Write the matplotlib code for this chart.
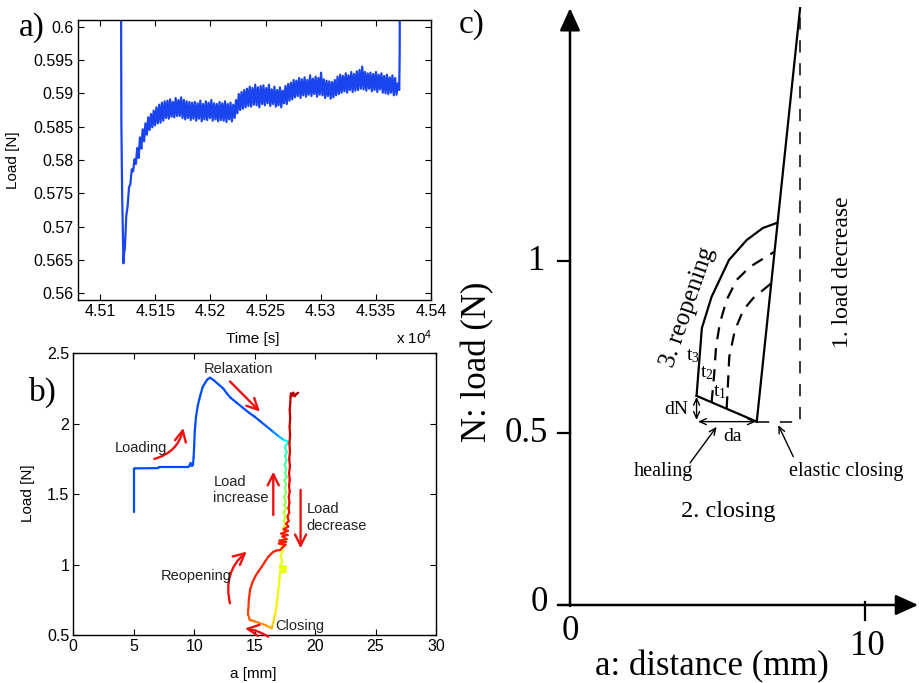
import numpy as np
import matplotlib
matplotlib.use('Agg')
import matplotlib.pyplot as plt
from matplotlib.collections import LineCollection

plt.rcParams['font.family'] = ['Liberation Sans', 'DejaVu Sans']
plt.rcParams['mathtext.default'] = 'regular'

W, H = 920, 683
SERIF = ['Liberation Serif', 'DejaVu Serif']

# ---------------- panel a data ----------------
a_head_t = [4.51190, 4.51191, 4.51193, 4.51200, 4.51207, 4.51212, 4.51218]
a_head_load = [0.625, 0.600, 0.586, 0.575, 0.5685, 0.5645, 0.5660]
a_body_t0, a_body_t1 = 4.51225, 4.53700
a_body_load = [
    0.5668, 0.5716, 0.5731, 0.5759, 0.5764, 0.5786, 0.5783, 0.5801, 0.5794, 0.5818,
    0.5803, 0.5834, 0.5817, 0.5846, 0.5828, 0.5855, 0.5838, 0.5864, 0.5845, 0.5869,
    0.5849, 0.5874, 0.5852, 0.5879, 0.5855, 0.5883, 0.5856, 0.5886, 0.5859, 0.5888,
    0.5863, 0.5889, 0.5862, 0.5891, 0.5865, 0.5887, 0.5864, 0.5893, 0.5866, 0.5890,
    0.5866, 0.5894, 0.5863, 0.5890, 0.5861, 0.5888, 0.5863, 0.5887, 0.5860, 0.5886,
    0.5862, 0.5887, 0.5859, 0.5885, 0.5862, 0.5889, 0.5858, 0.5884, 0.5861, 0.5888,
    0.5860, 0.5886, 0.5863, 0.5890, 0.5859, 0.5885, 0.5861, 0.5884, 0.5858, 0.5887,
    0.5860, 0.5885, 0.5859, 0.5888, 0.5857, 0.5884, 0.5861, 0.5886, 0.5858, 0.5883,
    0.5863, 0.5890, 0.5870, 0.5899, 0.5875, 0.5902, 0.5877, 0.5905, 0.5879, 0.5907,
    0.5881, 0.5910, 0.5880, 0.5908, 0.5883, 0.5913, 0.5882, 0.5909, 0.5879, 0.5911,
    0.5884, 0.5912, 0.5882, 0.5908, 0.5885, 0.5913, 0.5881, 0.5906, 0.5884, 0.5910,
    0.5880, 0.5905, 0.5882, 0.5909, 0.5879, 0.5904, 0.5885, 0.5911, 0.5884, 0.5914,
    0.5889, 0.5916, 0.5891, 0.5920, 0.5894, 0.5919, 0.5896, 0.5923, 0.5893, 0.5921,
    0.5897, 0.5924, 0.5895, 0.5920, 0.5898, 0.5927, 0.5896, 0.5922, 0.5899, 0.5925,
    0.5895, 0.5923, 0.5898, 0.5931, 0.5897, 0.5921, 0.5893, 0.5919, 0.5896, 0.5918,
    0.5892, 0.5917, 0.5894, 0.5920, 0.5897, 0.5925, 0.5899, 0.5928, 0.5901, 0.5926,
    0.5903, 0.5930, 0.5901, 0.5927, 0.5905, 0.5932, 0.5902, 0.5929, 0.5904, 0.5933,
    0.5905, 0.5935, 0.5907, 0.5940, 0.5906, 0.5932, 0.5904, 0.5930, 0.5907, 0.5931,
    0.5903, 0.5929, 0.5905, 0.5932, 0.5902, 0.5928, 0.5906, 0.5930, 0.5901, 0.5926,
    0.5900, 0.5928, 0.5899, 0.5924, 0.5901, 0.5927, 0.5897, 0.5923, 0.5898, 0.5915,
]
a_tail_t = [4.53712, 4.53716, 4.53721]
a_tail_load = [0.5905, 0.596, 0.625]
a_xticks = [4.51, 4.515, 4.52, 4.525, 4.53, 4.535, 4.54]
a_xticklabels = ['4.51', '4.515', '4.52', '4.525', '4.53', '4.535', '4.54']
a_yticks = [0.56, 0.565, 0.57, 0.575, 0.58, 0.585, 0.59, 0.595, 0.60]
a_yticklabels = ['0.56', '0.565', '0.57', '0.575', '0.58', '0.585', '0.59', '0.595', '0.6']

# ---------------- panel b data ----------------
b_x = [5.0, 5.0, 5.1, 7.0, 7.1, 9.5, 9.6, 9.7, 9.8, 9.9, 9.95, 10.0, 10.05, 10.15, 10.3, 10.5,
       10.7, 10.9, 11.1, 11.3, 11.6, 12.0, 12.4, 12.7, 13.0, 13.5, 14.0, 14.5, 15.0, 15.5, 16.0,
       16.5, 17.0, 17.4, 17.8,
       17.62, 17.50, 17.66, 17.52, 17.64, 17.48, 17.62, 17.52, 17.66, 17.46, 17.60, 17.50, 17.62,
       17.44, 17.58, 17.46, 17.60, 17.40, 17.54, 17.42, 17.56, 17.38, 17.50, 17.34, 17.44, 17.35,
       17.20, 17.30, 17.15, 17.28, 17.10, 17.60, 17.10, 17.60, 17.12, 17.55, 17.10, 17.05, 17.02,
       16.95, 16.92, 16.85, 16.80, 16.72, 16.62, 16.55, 16.45, 16.40,
       15.9, 15.4, 14.9, 14.6, 14.48,
       14.48, 14.52, 14.62, 14.80, 15.03, 15.3, 15.58, 15.85, 16.13, 16.35, 16.54, 16.8, 17.1, 17.37,
       17.55, 17.0, 17.6, 17.05, 17.65, 17.3, 17.72, 17.2, 17.75, 17.4, 17.78, 17.6, 17.82, 17.72,
       17.86, 17.80, 17.88, 17.82, 17.90, 17.84, 17.90, 17.85, 17.92, 17.86, 17.92, 17.88, 17.93,
       17.89, 17.94, 17.90, 17.95, 17.97, 18.0, 18.1, 18.2, 18.3, 18.45, 18.6]
b_load = [1.37, 1.68, 1.683, 1.685, 1.692, 1.692, 1.70, 1.72, 1.70, 1.71, 1.76, 1.85, 1.95, 2.05,
          2.13, 2.20, 2.26, 2.29, 2.315, 2.327, 2.31, 2.28, 2.25, 2.215, 2.185, 2.15, 2.115, 2.08,
          2.05, 2.015, 1.98, 1.945, 1.91, 1.885, 1.872,
          1.85, 1.83, 1.80, 1.77, 1.74, 1.71, 1.68, 1.65, 1.62, 1.60, 1.57, 1.54, 1.51, 1.48, 1.45,
          1.42, 1.40, 1.37, 1.34, 1.31, 1.29, 1.26, 1.24, 1.21, 1.19, 1.17, 1.14, 1.10, 1.06, 1.02,
          0.99, 0.985, 0.975, 0.965, 0.955, 0.95, 0.94, 0.90, 0.86, 0.82, 0.78, 0.74, 0.70, 0.66,
          0.62, 0.59, 0.56, 0.548,
          0.57, 0.585, 0.60, 0.606, 0.64,
          0.68, 0.75, 0.82, 0.87, 0.913, 0.95, 0.984, 1.02, 1.055, 1.075, 1.09, 1.10, 1.103, 1.127,
          1.14, 1.15, 1.16, 1.17, 1.18, 1.20, 1.21, 1.22, 1.24, 1.25, 1.27, 1.29, 1.31, 1.34, 1.37,
          1.40, 1.44, 1.48, 1.52, 1.56, 1.60, 1.65, 1.70, 1.75, 1.80, 1.86, 1.92, 1.98, 2.04, 2.10,
          2.15, 2.19, 2.215, 2.20, 2.22, 2.195, 2.21, 2.22]
# time-phase (colour) of each recorded point, 0..1 on the jet scale
b_phase = [0.20] * 30 + [0.21, 0.24, 0.29, 0.34, 0.38] + \
          [0.40, 0.41, 0.42, 0.43, 0.44, 0.45, 0.46, 0.47, 0.48, 0.49, 0.50, 0.51, 0.52, 0.53,
           0.54, 0.55, 0.56, 0.57, 0.58, 0.59, 0.60, 0.61, 0.62, 0.62, 0.63, 0.63, 0.63, 0.63,
           0.63, 0.63, 0.63, 0.63, 0.63, 0.63, 0.63, 0.63, 0.63, 0.64, 0.64, 0.64, 0.65, 0.65,
           0.66, 0.66, 0.67, 0.68, 0.70, 0.72] + \
          [0.74, 0.76, 0.78, 0.80, 0.82] + \
          [0.84, 0.86, 0.87, 0.87, 0.87, 0.87, 0.87, 0.87, 0.87, 0.87, 0.87, 0.87, 0.87, 0.88] + \
          [0.88, 0.88, 0.88, 0.88, 0.88, 0.88, 0.88, 0.88, 0.88, 0.88, 0.89, 0.89, 0.89, 0.89,
           0.89, 0.90, 0.90, 0.90, 0.90, 0.91, 0.91, 0.91, 0.92, 0.92, 0.92, 0.93, 0.93, 0.93,
           0.94, 0.94, 0.94, 0.95, 0.95, 0.95, 0.95, 0.95, 0.95, 0.95]
b_xticks = [0, 5, 10, 15, 20, 25, 30]
b_yticks = [0.5, 1.0, 1.5, 2.0, 2.5]
b_yticklabels = ['0.5', '1', '1.5', '2', '2.5']

# ---------------- panel c data (schematic) ----------------
c_steep_x = [6.33, 7.80]
c_steep_y = [0.533, 1.735]
c_reopen_x = [4.29, 4.47, 4.80, 5.39, 5.99, 6.54, 7.02]
c_reopen_y = [0.608, 0.805, 0.896, 1.003, 1.061, 1.096, 1.111]
c_close_x = [4.29, 6.33]
c_close_y = [0.608, 0.533]
c_elastic_x = [6.33, 7.80, 7.80]
c_elastic_y = [0.533, 0.533, 1.735]
c_t2_x = [4.80, 4.89, 4.95, 5.08, 5.31, 5.65, 6.10, 6.93]
c_t2_y = [0.589, 0.673, 0.751, 0.819, 0.887, 0.945, 0.983, 1.027]
c_t1_x = [5.31, 5.35, 5.40, 5.59, 5.88, 6.21, 6.82]
c_t1_y = [0.571, 0.635, 0.722, 0.799, 0.858, 0.892, 0.935]
c_yticks = [0.5, 1.0]
c_yticklabels = ['0.5', '1']


def fx(px):
    return px / W


def fy(py):
    return 1 - py / H


fig = plt.figure(figsize=(9.2, 6.83), dpi=100)

# ================= panel a =================
axa = fig.add_axes([fx(78), fy(300), fx(431) - fx(78), fy(20) - fy(300)])
a_t = list(a_head_t) + list(np.linspace(a_body_t0, a_body_t1, len(a_body_load))) + list(a_tail_t)
a_l = list(a_head_load) + a_body_load + list(a_tail_load)
axa.plot(a_t, a_l, color='#1a44ee', lw=1.6)
axa.set_xlim(4.5080, 4.5400)
axa.set_ylim(0.5590, 0.6010)
axa.set_xticks(a_xticks)
axa.set_xticklabels(a_xticklabels)
axa.set_yticks(a_yticks)
axa.set_yticklabels(a_yticklabels)
axa.tick_params(direction='in', top=True, right=True, length=4, width=0.8,
                labelsize=11.5, pad=3)
axa.set_ylabel('Load [N]', fontsize=11)
axa.yaxis.set_label_coords(-0.164, 0.5)
axa.set_xlabel('Time [s]', fontsize=11)
axa.xaxis.set_label_coords(0.496, -0.115)
for s in axa.spines.values():
    s.set_linewidth(1.0)
fig.text(fx(396), fy(338), 'x 10$^{4}$', fontsize=11, ha='left', va='center')

# ================= panel b =================
axb = fig.add_axes([fx(73.3), fy(635), fx(436) - fx(73.3), fy(353.3) - fy(635)])
pts = np.column_stack([b_x, b_load])
segs = np.stack([pts[:-1], pts[1:]], axis=1)
ph = np.array(b_phase)
segc = plt.get_cmap('jet')((ph[:-1] + ph[1:]) / 2)
lc = LineCollection(segs, colors=segc, linewidths=1.6, capstyle='round', joinstyle='round')
axb.add_collection(lc)
axb.set_xlim(0, 30)
axb.set_ylim(0.5, 2.5)
axb.set_xticks(b_xticks)
axb.set_yticks(b_yticks)
axb.set_yticklabels(b_yticklabels)
axb.tick_params(direction='in', top=True, right=True, length=4, width=0.8,
                labelsize=11.5, pad=3)
axb.set_ylabel('Load [N]', fontsize=11)
axb.yaxis.set_label_coords(-0.106, 0.504)
axb.set_xlabel('a [mm]', fontsize=11)
axb.xaxis.set_label_coords(0.495, -0.112)
for s in axb.spines.values():
    s.set_linewidth(1.0)

ak = dict(arrowstyle='->,head_length=0.5,head_width=0.25', color='#ee1111', lw=1.7,
          mutation_scale=16, shrinkA=0, shrinkB=0)
axb.annotate('', xy=(9.1, 1.97), xytext=(6.7, 1.75),
             arrowprops=dict(**ak, connectionstyle='arc3,rad=0.3'))
axb.annotate('', xy=(15.44, 2.086), xytext=(12.96, 2.30), arrowprops=dict(**ak))
axb.annotate('', xy=(16.54, 1.66), xytext=(16.54, 1.352), arrowprops=dict(**ak))
axb.annotate('', xy=(18.8, 1.116), xytext=(18.8, 1.53), arrowprops=dict(**ak))
axb.annotate('', xy=(14.34, 1.092), xytext=(12.96, 0.725),
             arrowprops=dict(**ak, connectionstyle='arc3,rad=-0.3'))
axb.annotate('', xy=(14.2, 0.547), xytext=(16.13, 0.488), annotation_clip=False,
             arrowprops=dict(**ak, connectionstyle='arc3,rad=0.1'))

bt = dict(fontsize=10.5, color='#222222')
axb.text(13.7, 2.386, 'Relaxation', ha='center', va='center', **bt)
axb.text(5.57, 1.83, 'Loading', ha='center', va='center', **bt)
axb.text(11.58, 1.53, 'Load\nincrease', ha='left', va='center', linespacing=1.2, **bt)
axb.text(19.3, 1.334, 'Load\ndecrease', ha='left', va='center', linespacing=1.2, **bt)
axb.text(10.2, 0.918, 'Reopening', ha='center', va='center', **bt)
axb.text(16.68, 0.563, 'Closing', ha='left', va='center', **bt)

# ================= panel c =================
axc = fig.add_axes([fx(540), 0, fx(920) - fx(540), 1])
axc.set_xlim((540 - 570) / 29.5, (920 - 570) / 29.5)
axc.set_ylim((605 - 683) / 344, 605 / 344)
axc.axis('off')

axk = dict(arrowstyle='-|>,head_length=0.55,head_width=0.25', color='black', lw=1.8,
           mutation_scale=25, shrinkA=0, shrinkB=0)
axc.annotate('', xy=(0, 1.735), xytext=(0, -0.003), arrowprops=axk)
axc.annotate('', xy=(11.8, 0), xytext=(-0.41, 0), arrowprops=axk)
for yt in c_yticks:
    axc.plot([-0.41, 0], [yt, yt], color='black', lw=1.6)
axc.plot([10, 10], [0.0087, -0.044], color='black', lw=1.6)

tf = dict(family=SERIF, fontsize=25)
axc.text(-0.85, 1.0, c_yticklabels[1], ha='right', va='center', **tf)
axc.text(-0.75, 0.5, c_yticklabels[0], ha='right', va='center', **tf)
axc.text(-0.75, 0.006, '0', ha='right', va='center', **tf)
axc.text(0.0, -0.078, '0', ha='center', va='center', **tf)
axc.text(10.07, -0.122, '10', ha='center', va='center', **tf)
axc.text(4.81, -0.18, 'a: distance (mm)', ha='center', va='center', **tf)
fig.text(fx(478), fy(362), 'N: load (N)', rotation=90, ha='center', va='center', **tf)

axc.plot(c_steep_x, c_steep_y, color='black', lw=1.6)
axc.plot(c_reopen_x, c_reopen_y, color='black', lw=1.6)
axc.plot(c_close_x, c_close_y, color='black', lw=1.6)
axc.plot(c_elastic_x, c_elastic_y, color='black', lw=1.1, linestyle=(0, (8, 7)))
axc.plot(c_t2_x, c_t2_y, color='black', lw=1.6, linestyle=(0, (5.5, 4)))
axc.plot(c_t1_x, c_t1_y, color='black', lw=1.6, linestyle=(0, (5.5, 4)))

sk = dict(arrowstyle='<->,head_length=0.4,head_width=0.18', color='black', lw=1.0,
          mutation_scale=12, shrinkA=0, shrinkB=0)
axc.annotate('', xy=(4.29, 0.538), xytext=(4.29, 0.605), arrowprops=sk)
axc.annotate('', xy=(6.30, 0.533), xytext=(4.34, 0.533), arrowprops=sk)
pk = dict(arrowstyle='->,head_length=0.4,head_width=0.18', color='black', lw=1.0,
          mutation_scale=12, shrinkA=0, shrinkB=0)
axc.annotate('', xy=(4.97, 0.518), xytext=(4.07, 0.413), arrowprops=pk)
axc.annotate('', xy=(7.06, 0.523), xytext=(7.57, 0.431), arrowprops=pk)

sf = dict(family=SERIF)
axc.text(3.61, 0.567, 'dN', ha='center', va='center', fontsize=14, **sf)
axc.text(5.51, 0.491, 'da', ha='center', va='center', fontsize=14, **sf)
axc.text(3.15, 0.388, 'healing', ha='center', va='center', fontsize=14.5, **sf)
axc.text(9.36, 0.388, 'elastic closing', ha='center', va='center', fontsize=14.5, **sf)
axc.text(5.37, 0.271, '2. closing', ha='center', va='center', fontsize=17.5, **sf)
axc.text(4.01, 0.867, '3. reopening', ha='center', va='center', rotation=71,
         rotation_mode='anchor', fontsize=18, **sf)
axc.text(9.25, 0.968, '1. load decrease', ha='center', va='center', rotation=90,
         fontsize=17, **sf)
axc.text(4.18, 0.724, r'$\mathregular{t_3}$', ha='center', va='center', fontsize=14, **sf)
axc.text(4.63, 0.673, r'$\mathregular{t_2}$', ha='center', va='center', fontsize=14, **sf)
axc.text(5.08, 0.620, r'$\mathregular{t_1}$', ha='center', va='center', fontsize=14, **sf)

# panel letters
fig.text(fx(32), fy(28), 'a)', ha='center', va='center', fontsize=24, family=SERIF)
fig.text(fx(43), fy(392), 'b)', ha='center', va='center', fontsize=24, family=SERIF)
fig.text(fx(472), fy(25), 'c)', ha='center', va='center', fontsize=24, family=SERIF)

fig.savefig('out.png', dpi=100)
